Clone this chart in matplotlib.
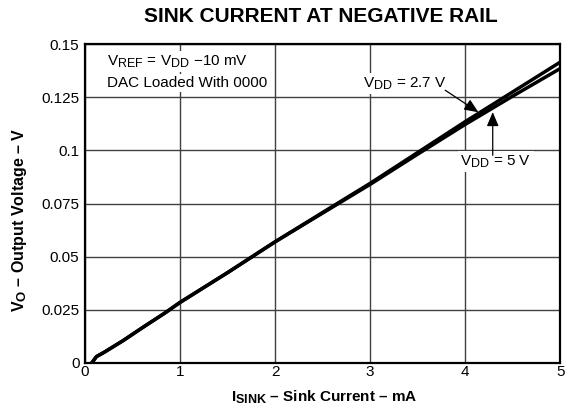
import matplotlib
matplotlib.use('Agg')
import matplotlib.pyplot as plt
import matplotlib._mathtext as mtext

# subscripts in the reference are only slightly smaller than the base text
mtext.SHRINK_FACTOR = 0.82

plt.rcParams['font.family'] = ['Liberation Sans', 'DejaVu Sans']
plt.rcParams['mathtext.fontset'] = 'custom'
plt.rcParams['mathtext.rm'] = 'Liberation Sans'
plt.rcParams['mathtext.it'] = 'Liberation Sans'
plt.rcParams['mathtext.bf'] = 'Liberation Sans:bold'

# sink current (mA) and output voltage (V)
i_sink = [0.07, 0.12, 0.2, 0.4, 0.6, 0.84, 1.0, 1.5, 2.0, 2.5, 3.0, 3.5, 4.0, 4.5, 5.0]
vo_27 = [0.0, 0.003, 0.005, 0.0105, 0.0165, 0.0235, 0.0285, 0.0425, 0.057, 0.0708, 0.0845, 0.0990, 0.1135, 0.1275, 0.1415]
vo_5 = [0.0, 0.003, 0.005, 0.0105, 0.0165, 0.0235, 0.0285, 0.0425, 0.057, 0.0705, 0.0840, 0.0982, 0.1122, 0.1255, 0.1385]

xticks = [0, 1, 2, 3, 4, 5]
yticks = [0, 0.025, 0.05, 0.075, 0.1, 0.125, 0.15]
ytick_labels = ['0', '0.025', '0.05', '0.075', '0.1', '0.125', '0.15']

fig = plt.figure(figsize=(5.67, 4.12), dpi=100)
ax = fig.add_axes([0.150, 0.119, 0.838, 0.774])

ax.plot(i_sink, vo_27, color='black', lw=2.5, solid_capstyle='round', solid_joinstyle='round')
ax.plot(i_sink, vo_5, color='black', lw=2.5, solid_capstyle='round', solid_joinstyle='round')

ax.set_xlim(0, 5)
ax.set_ylim(0, 0.15)
ax.set_xticks(xticks)
ax.set_yticks(yticks)
ax.set_yticklabels(ytick_labels)
ax.tick_params(length=0, labelsize=11)
ax.tick_params(axis='x', pad=1.5)
ax.tick_params(axis='y', pad=4)
ax.grid(True, color='#404040', lw=1.0)
ax.set_axisbelow(True)
for s in ax.spines.values():
    s.set_linewidth(1.6)

fig.text(0.571, 0.036, r'$\mathbf{I_{SINK}}$ – Sink Current – mA', fontsize=11,
         fontweight='bold', ha='center', va='center')
fig.text(0.034, 0.466, r'$\mathbf{V_O}$ – Output Voltage – V', fontsize=11.5,
         fontweight='bold', ha='center', va='center', rotation=90)
fig.text(0.566, 0.961, 'SINK CURRENT AT NEGATIVE RAIL', fontsize=15,
         fontweight='bold', ha='center', va='center')

box = dict(facecolor='white', edgecolor='none', pad=1.5)
ax.text(0.23, 0.140, r'V$_{\mathrm{REF}}$ = V$_{\mathrm{DD}}$ −10 mV', fontsize=11,
        va='baseline', bbox=box, zorder=3)
ax.text(0.23, 0.1297, 'DAC Loaded With 0000', fontsize=11, va='baseline', bbox=box, zorder=3)
ax.text(2.93, 0.1297, r'V$_{\mathrm{DD}}$ = 2.7 V', fontsize=11, va='baseline', bbox=box, zorder=3)
ax.text(3.95, 0.093, r'V$_{\mathrm{DD}}$ = 5 V', fontsize=11, va='baseline', bbox=box, zorder=3)

arrow = dict(arrowstyle='-|>,head_length=0.85,head_width=0.36', color='black', lw=0.9,
             mutation_scale=10, shrinkA=0, shrinkB=0)
ax.annotate('', xy=(4.14, 0.1179), xytext=(3.79, 0.1283), arrowprops=arrow, zorder=4)
ax.annotate('', xy=(4.29, 0.1180), xytext=(4.29, 0.0977), arrowprops=arrow, zorder=4)

fig.savefig('out.png', dpi=100)
